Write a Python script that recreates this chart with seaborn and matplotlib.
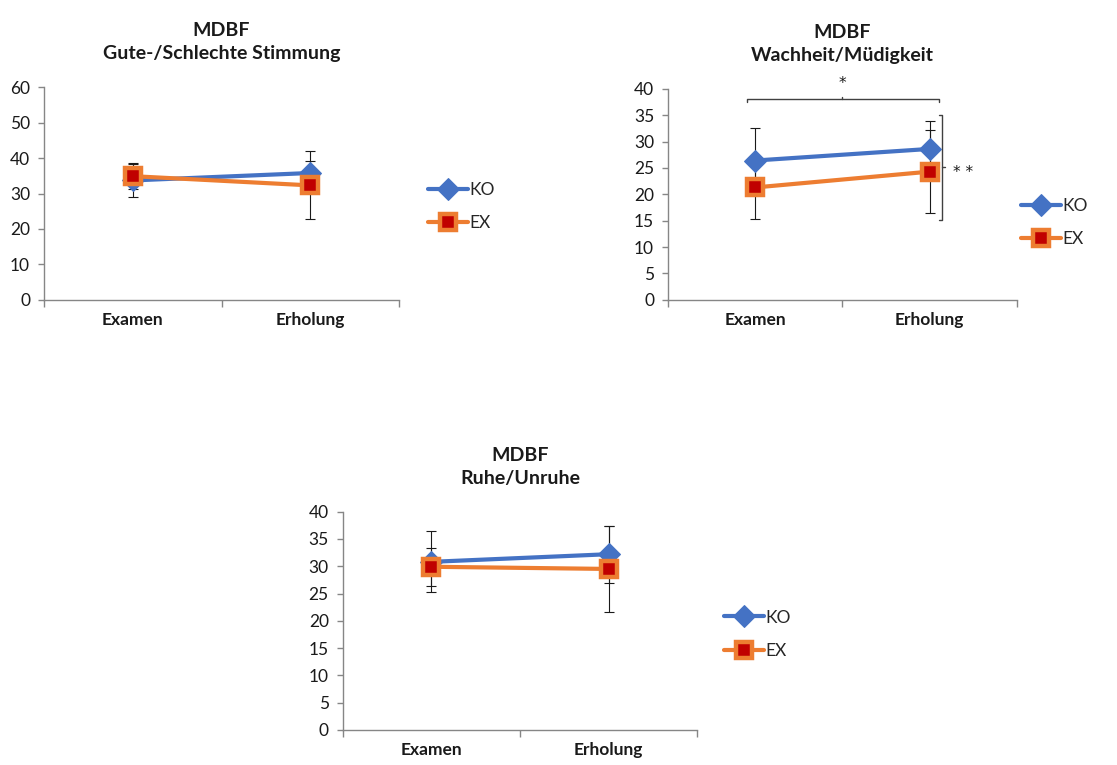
import pandas as pd
import matplotlib
matplotlib.use("Agg")
import matplotlib.pyplot as plt
import seaborn as sns

# Data (means and SDs)
phases = ["Examen", "Erholung"]
groups = ["KO", "EX"]

gs_ko = [33.7, 35.8]
gs_ko_sd = [4.6, 3.5]
gs_ex = [34.9, 32.3]
gs_ex_sd = [3.7, 9.6]

wm_ko = [26.4, 28.6]
wm_ko_sd = [6.1, 5.3]
wm_ex = [21.3, 24.3]
wm_ex_sd = [6.0, 7.9]

ru_ko = [30.8, 32.2]
ru_ko_sd = [5.6, 5.2]
ru_ex = [29.9, 29.5]
ru_ex_sd = [3.5, 7.8]

titles = ["MDBF\nGute-/Schlechte Stimmung", "MDBF\nWachheit/Müdigkeit", "MDBF\nRuhe/Unruhe"]
y_max = [60, 40, 40]
y_step = [10, 5, 5]

blue = "#4472C4"
orange = "#ED7D31"
red = "#C00000"
grey = "#868686"
txt = "#1a1a1a"

sns.set_style("white")
plt.rcParams["font.family"] = ["Lato", "DejaVu Sans"]

fig = plt.figure(figsize=(11.17, 7.65), dpi=100)

# axes positions [left, bottom, width, height] and legend anchors (figure fraction)
positions = [[0.0394, 0.608, 0.318, 0.278],
             [0.598, 0.608, 0.3125, 0.276],
             [0.3068, 0.0458, 0.3175, 0.2854]]
legend_pos = [(0.383, 0.730), (0.914, 0.709), (0.648, 0.171)]

panels = [(gs_ko, gs_ko_sd, gs_ex, gs_ex_sd),
          (wm_ko, wm_ko_sd, wm_ex, wm_ex_sd),
          (ru_ko, ru_ko_sd, ru_ex, ru_ex_sd)]

for i, (ko, ko_sd, ex, ex_sd) in enumerate(panels):
    ax = fig.add_axes(positions[i])
    df = pd.DataFrame({"phase": phases * 2,
                       "group": [groups[0]] * 2 + [groups[1]] * 2,
                       "value": ko + ex})

    ax.errorbar(phases, ko, yerr=ko_sd, fmt="none", ecolor=txt, elinewidth=0.8,
                capsize=3.5, capthick=0.8, zorder=1.5)
    ax.errorbar(phases, ex, yerr=ex_sd, fmt="none", ecolor=txt, elinewidth=0.8,
                capsize=3.5, capthick=0.8, zorder=1.5)

    sns.lineplot(data=df[df["group"] == "KO"], x="phase", y="value", sort=False,
                 color=blue, lw=3, marker="D", markersize=11.5, mec=blue, mfc=blue,
                 label="KO", ax=ax, zorder=3)
    sns.lineplot(data=df[df["group"] == "EX"], x="phase", y="value", sort=False,
                 color=orange, lw=3, marker="s", markersize=12, mec=orange, mfc=red,
                 mew=3.2, label="EX", ax=ax, zorder=4)

    ax.set_xlim(-0.5, 1.5)
    ax.set_ylim(0, y_max[i])
    ax.set_yticks(range(0, y_max[i] + 1, y_step[i]))
    ax.set_xticks([-0.5, 0.5, 1.5])
    ax.set_xticklabels(["", "", ""])
    ax.set_xticks([0, 1], minor=True)
    ax.set_xticklabels(phases, minor=True, fontweight="bold", fontsize=12.5, color=txt)
    ax.tick_params(axis="x", which="major", bottom=True, direction="out", length=5,
                   width=1, color=grey)
    ax.tick_params(axis="x", which="minor", bottom=True, length=0, pad=9)
    ax.tick_params(axis="y", left=True, direction="out", length=4, width=1,
                   color=grey, labelsize=12.5, labelcolor=txt, pad=6)
    ax.set_xlabel("")
    ax.set_ylabel("")
    for s in ["top", "right"]:
        ax.spines[s].set_visible(False)
    for s in ["left", "bottom"]:
        ax.spines[s].set_color(grey)
        ax.spines[s].set_linewidth(1)

    ax.set_title(titles[i], fontweight="bold", fontsize=14, linespacing=1.45,
                 pad=20, color=txt)

    ax.legend(loc="center left", bbox_to_anchor=legend_pos[i],
              bbox_transform=fig.transFigure, frameon=False, handlelength=2.3,
              handletextpad=0.1, labelspacing=1.0, borderpad=0, borderaxespad=0,
              numpoints=1, prop={"size": 12.5})

    if i == 1:
        br = "#404040"
        # top bracket (*)
        ax.plot([-0.045, -0.045, 1.055, 1.055], [37.4, 38, 38, 37.4], color=br,
                lw=1, clip_on=False)
        ax.plot([0.5, 0.5], [38, 38.5], color=br, lw=1, clip_on=False)
        ax.text(0.5, 41.0, "*", ha="center", va="center", fontsize=11,
                family="DejaVu Sans", color=txt)
        # right bracket (**)
        ax.plot([1.055, 1.072, 1.072, 1.055], [35.1, 35.1, 15.2, 15.2], color=br,
                lw=1, clip_on=False)
        ax.plot([1.072, 1.09], [25.1, 25.1], color=br, lw=1, clip_on=False)
        ax.text(1.19, 24.2, "* *", ha="center", va="center", fontsize=11,
                family="DejaVu Sans", color=txt)

fig.savefig("out.png", dpi=100)
